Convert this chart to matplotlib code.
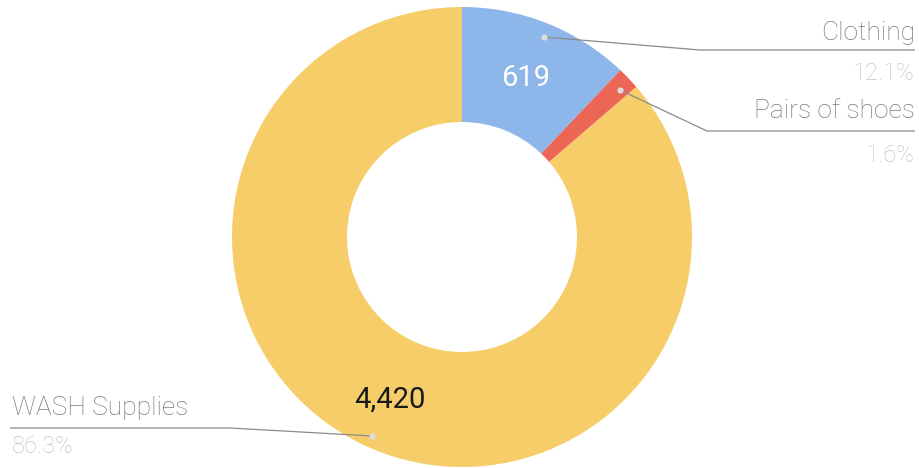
import numpy as np
import matplotlib
matplotlib.use('Agg')
import matplotlib.pyplot as plt

# Data
categories = ['Clothing', 'Pairs of shoes', 'WASH Supplies']
values = [619, 82, 4420]
shares = ['12.1%', '1.6%', '86.3%']
colors = ['#8db6ea', '#ec6656', '#f6cd68']

W, H = 920, 468
fig = plt.figure(figsize=(W / 100, H / 100), dpi=100)
ax = fig.add_axes([0, 0, 1, 1])

cx, cy = 462, H - 237
R = 230
ax.pie(values, colors=colors, startangle=90, counterclock=False,
       center=(cx, cy), radius=R, frame=True,
       wedgeprops=dict(width=R / 2, linewidth=0))
ax.set_xlim(0, W)
ax.set_ylim(0, H)
ax.set_aspect('equal')
ax.axis('off')

font = 'Roboto'
name_col = '#7a7a7a'
pct_col = '#c4c4c4'
line_col = '#8a8a8a'

# leader lines: dot -> elbow -> end (pixel coords, y from top)
leaders = [
    [(544, 37), (700, 50), (915, 50)],
    [(620, 90), (707, 131), (915, 131)],
    [(372, 436), (230, 428), (10, 428)],
]
for pts in leaders:
    xs = [p[0] for p in pts]
    ys = [H - p[1] for p in pts]
    ax.plot(xs, ys, color=line_col, lw=0.9, solid_capstyle='butt')
    ax.plot(xs[0], ys[0], 'o', ms=4.5, color='#dcdcdc', mec='none')

# category names and shares
name_kw = dict(fontsize=19, color=name_col, family=font, fontweight='light')
pct_kw = dict(fontsize=17, color=pct_col, family=font, fontweight='light')
ax.text(915, H - 33, categories[0], ha='right', va='center', **name_kw)
ax.text(915, H - 73, shares[0], ha='right', va='center', **pct_kw)
ax.text(915, H - 111, categories[1], ha='right', va='center', **name_kw)
ax.text(915, H - 156, shares[1], ha='right', va='center', **pct_kw)
ax.text(12, H - 408, categories[2], ha='left', va='center', **name_kw)
ax.text(12, H - 447, shares[2], ha='left', va='center', **pct_kw)

# value labels
ax.text(526, H - 78, f'{values[0]:,}', ha='center', va='center', fontsize=21,
        color='white', family=font)
ax.text(390, H - 400, f'{values[2]:,}', ha='center', va='center', fontsize=21,
        color='#1a1a1a', family=font)

fig.savefig('out.png', dpi=100, facecolor='white')
